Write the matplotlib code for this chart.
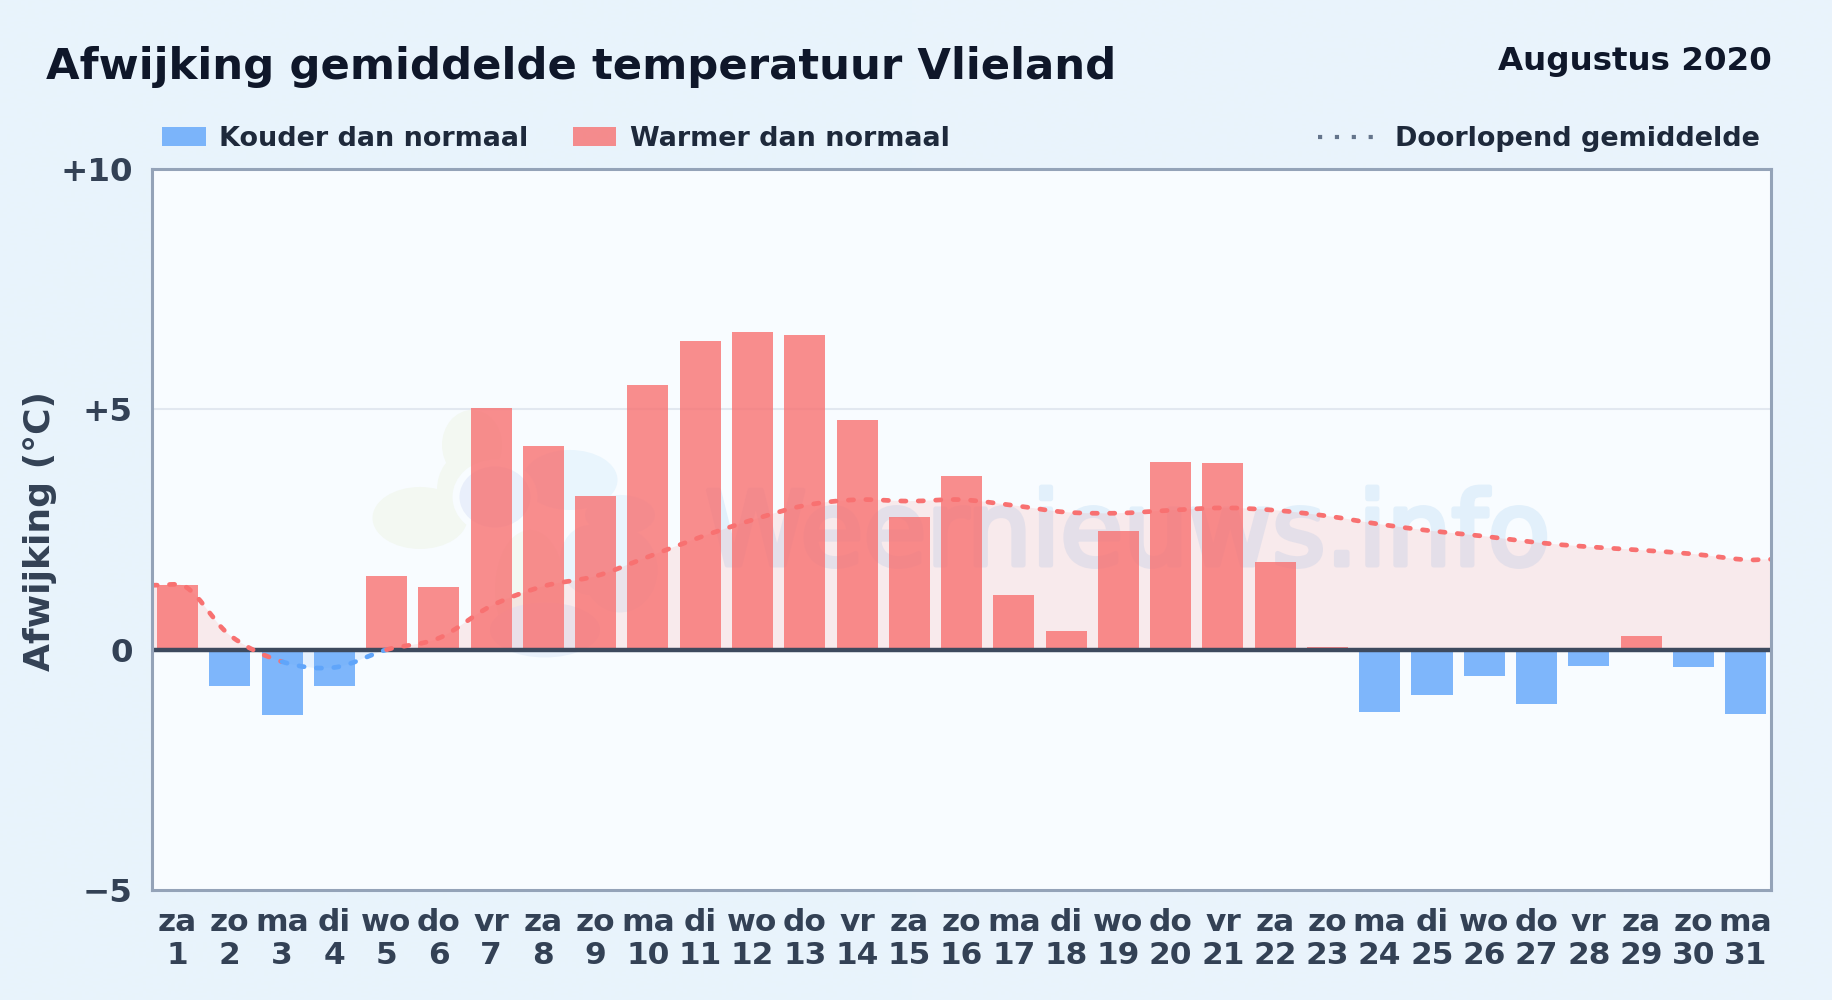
import numpy as np
import matplotlib
matplotlib.use("Agg")
import matplotlib.pyplot as plt
import matplotlib.patheffects as pe
from matplotlib.path import Path
from matplotlib.patches import PathPatch, Rectangle, Ellipse
from matplotlib.lines import Line2D

W, H = 1832, 1000
weekdays = ["za","zo","ma","di","wo","do","vr","za","zo","ma","di","wo","do","vr","za","zo",
            "ma","di","wo","do","vr","za","zo","ma","di","wo","do","vr","za","zo","ma"]
days = list(range(1, 32))
deviation = [1.34,-0.75,-1.36,-0.75,1.53,1.31,5.03,4.23,3.19,5.50,6.42,6.61,6.54,4.77,2.75,3.62,
             1.14,0.39,2.46,3.91,3.89,1.82,0.05,-1.29,-0.95,-0.54,-1.14,-0.34,0.29,-0.36,-1.34]
running_mean = [1.36,0.30,-0.25,-0.37,0.00,0.24,0.91,1.32,1.53,1.93,2.34,2.70,3.00,3.12,3.09,3.12,
                3.00,2.86,2.84,2.90,2.95,2.90,2.78,2.61,2.47,2.36,2.23,2.14,2.07,1.99,1.87]
left_edge_mean = 1.34
right_edge_mean = 1.88
y_ticks = [-5, 0, 5, 10]
y_labels = ["\u22125", "0", "+5", "+10"]

RED = "#f87171"; BLUE = "#60a5fa"
SPINE = "#94a3b8"; DARK = "#0f172a"; LEG = "#1e293b"; TICK = "#334155"

plt.rcParams["font.family"] = "DejaVu Sans"
fig = plt.figure(figsize=(W/100, H/100), dpi=100)

# page background
bg = fig.add_axes([0, 0, 1, 1], zorder=0)
bg.axis("off")
g = np.array([[0.0, 1.0], [0.4, 0.6]])
c0 = np.array([0xe8, 0xf3, 0xfc]) / 255; c1 = np.array([0xea, 0xf4, 0xfc]) / 255
bg.imshow(c0 + (c1 - c0) * g[..., None], extent=[0, 1, 0, 1], aspect="auto", interpolation="bicubic")
bg.set_xlim(0, 1); bg.set_ylim(0, 1)

AL, AR, AT, AB = 152, 1770.5, 169, 890
X0, X1 = 0.012, 30.976
ax = fig.add_axes([AL/W, 1-AB/H, (AR-AL)/W, (AB-AT)/H], zorder=1)
ax.set_facecolor("#f8fcff")
ax.set_xlim(X0, X1)
ax.set_ylim(-5, 10)

def dx(px): return (px-AL)/(AR-AL)*(X1-X0)+X0
def dy(py): return (649.7-py)/48.07

# watermark logo + text
def blob(px, py, w, h, color, angle=0, z=0.5):
    ax.add_patch(Ellipse((dx(px), dy(py)), w/52.27, h/48.07, angle=angle, fc=color, ec="none", zorder=z))
for p in [(420,518,95,62,"#f3f8f2"),(472,445,60,70,"#f3f8f2"),(462,490,50,70,"#f3f8f2"),(530,590,70,120,"#f3f8f2"),
          (570,480,95,60,"#e9f5fd"),(620,515,70,40,"#e9f5fd"),(620,570,75,85,"#e9f5fd"),(590,560,60,70,"#e9f5fd"),
          (545,630,110,55,"#e9f1fb")]:
    blob(*p)
blob(495,497,78,68,"#e9effb",z=0.6)
ax.add_patch(Ellipse((dx(495),dy(497)),78/52.27,68/48.07,fc="none",ec="#f8fcff",lw=5,zorder=0.61))
wm = ax.text(dx(705), dy(565), "Weernieuws.info", fontsize=73.8, color="#e2f0fb", ha="left", va="baseline", zorder=0.7)
wm.set_path_effects([pe.withStroke(linewidth=3.6, foreground="#e2f0fb")])

# smooth curve through running mean
xs = np.array([X0] + [d-0.5 for d in days] + [X1])
ys = np.array([left_edge_mean] + running_mean + [right_edge_mean])
tan = np.zeros_like(ys)
tan[1:-1] = (ys[2:]-ys[:-2])/(xs[2:]-xs[:-2])
tan[1] = 0.0

def curve(i0, i1):
    v = [(xs[i0], ys[i0])]; c = [Path.MOVETO]
    for i in range(i0, i1):
        h = (xs[i+1]-xs[i])/3
        v += [(xs[i]+h, ys[i]+tan[i]*h), (xs[i+1]-h, ys[i+1]-tan[i+1]*h), (xs[i+1], ys[i+1])]
        c += [Path.CURVE4]*3
    return v, c

v, c = curve(0, len(xs)-1)
closed = Path(v + [(xs[-1], 0), (xs[0], 0), (xs[0], ys[0])], c + [Path.LINETO]*3)
for color, alpha, rect in [(RED, 0.13, (0, 0, 32, 10)), (BLUE, 0.12, (0, -5, 32, 5))]:
    pp = PathPatch(closed, fc=color, ec="none", alpha=alpha, zorder=1)
    ax.add_patch(pp)
    pp.set_clip_path(Rectangle(rect[:2], rect[2], rect[3], transform=ax.transData))

ax.axhline(5, color="#e2e8f0", lw=1.5, zorder=1.5)

for d, val in zip(days, deviation):
    ax.bar(d-0.5, val, width=0.785, color=RED if val >= 0 else BLUE, alpha=0.8, linewidth=0, zorder=2)

ax.axhline(0, color="#3d4a5e", lw=3.2, zorder=3)

for i0, i1, color in [(0, 3, RED), (3, 5, BLUE), (5, len(xs)-1, RED)]:
    vv, cc = curve(i0, i1)
    ax.add_patch(PathPatch(Path(vv, cc), fc="none", ec=color, lw=3.4, capstyle="round",
                           linestyle=(0, (1.1, 2.6)), zorder=4))

for s in ax.spines.values():
    s.set_color(SPINE); s.set_linewidth(2.2); s.set_zorder(5)

ax.set_xticks([d-0.5 for d in days])
ax.set_xticklabels([f"{w}\n{d}" for w, d in zip(weekdays, days)], fontsize=22.5, fontweight="bold",
                   color=TICK, linespacing=1.17)
ax.set_yticks(y_ticks)
ax.set_yticklabels(y_labels, fontsize=23.4, fontweight="bold", color=TICK)
ax.tick_params(axis="both", length=0)
ax.tick_params(axis="x", pad=13)
ax.tick_params(axis="y", pad=14)

def T(px, py, s, **kw):
    fig.text(px/W, 1-py/H, s, **kw)

T(45.5, 79, "Afwijking gemiddelde temperatuur Vlieland", fontsize=31.2, fontweight="bold", color=DARK, va="baseline")
T(1771.5, 70, "Augustus 2020", fontsize=23.4, fontweight="bold", color=DARK, va="baseline", ha="right")
T(40, 531, "Afwijking (\u00b0C)", fontsize=26, fontweight="bold", color=TICK, rotation=90, va="center", ha="center")

# legend
ov = fig.add_axes([0, 0, 1, 1], zorder=2); ov.axis("off"); ov.set_xlim(0, W); ov.set_ylim(H, 0)
ov.add_patch(Rectangle((161.6, 127), 44.2, 19, fc=BLUE, ec="none", alpha=0.8))
ov.add_patch(Rectangle((573, 127), 43, 19, fc=RED, ec="none", alpha=0.8))
ov.add_line(Line2D([1317.7, 1373], [137, 137], color="#64748b", lw=3.0, linestyle=(0, (1.0, 3.05)), dash_capstyle="butt"))
for px, s in [(218.6, "Kouder dan normaal"), (630, "Warmer dan normaal"), (1395, "Doorlopend gemiddelde")]:
    T(px, 146, s, fontsize=19.45, fontweight="bold", color=LEG, va="baseline")

fig.savefig("out.png", dpi=100, facecolor="#e9f4fc")
